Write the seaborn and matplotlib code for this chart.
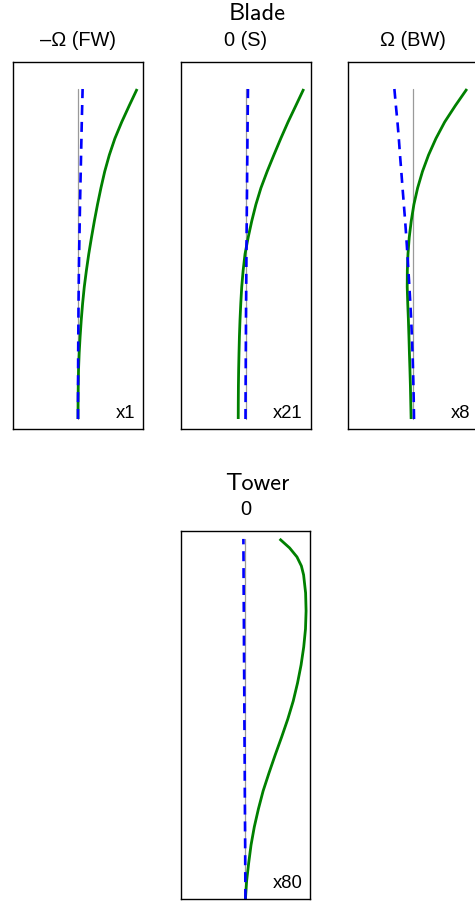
import matplotlib
matplotlib.use("Agg")
import numpy as np
import pandas as pd
import matplotlib.pyplot as plt
import seaborn as sns

# ---------------------------------------------------------------- data
# Normalised blade span stations (root = 0, tip = 1)
blade_span = [0.00, 0.05, 0.10, 0.15, 0.20, 0.25, 0.30, 0.35, 0.40, 0.45, 0.50,
              0.55, 0.60, 0.65, 0.70, 0.75, 0.80, 0.85, 0.90, 0.95, 1.00]

# Forward whirl (-Omega)
flap_fw = [0.000, 0.001, 0.004, 0.009, 0.020, 0.036, 0.055, 0.078, 0.106, 0.142, 0.182,
           0.228, 0.277, 0.330, 0.388, 0.452, 0.530, 0.624, 0.740, 0.868, 1.000]
edge_fw = [0.000, 0.000, 0.001, 0.002, 0.003, 0.005, 0.007, 0.009, 0.012, 0.015, 0.019,
           0.024, 0.029, 0.034, 0.040, 0.046, 0.052, 0.058, 0.064, 0.071, 0.078]

# Symmetric (0)
flap_s = [-0.123, -0.122, -0.120, -0.116, -0.110, -0.103, -0.093, -0.080, -0.064, -0.040, -0.008,
          0.045, 0.106, 0.176, 0.261, 0.366, 0.480, 0.597, 0.720, 0.853, 0.985]
edge_s = [0.000, 0.001, 0.002, 0.004, 0.005, 0.007, 0.008, 0.010, 0.012, 0.014, 0.016,
          0.018, 0.021, 0.023, 0.026, 0.028, 0.031, 0.033, 0.036, 0.039, 0.042]

# Backward whirl (+Omega)
flap_bw = [-0.037, -0.043, -0.049, -0.057, -0.066, -0.074, -0.083, -0.094, -0.103, -0.101, -0.090,
           -0.069, -0.035, 0.010, 0.073, 0.155, 0.258, 0.383, 0.531, 0.713, 0.907]
edge_bw = [0.012, 0.008, 0.002, -0.005, -0.013, -0.024, -0.036, -0.050, -0.066, -0.083, -0.100,
           -0.118, -0.138, -0.160, -0.182, -0.203, -0.225, -0.245, -0.268, -0.295, -0.320]

# Normalised tower height stations
tower_height = [0.00, 0.05, 0.10, 0.15, 0.20, 0.25, 0.30, 0.35, 0.40, 0.45, 0.50, 0.55,
                0.60, 0.65, 0.70, 0.75, 0.80, 0.85, 0.90, 0.925, 0.95, 0.975, 1.00]
tower_fa = [0.000, 0.020, 0.055, 0.095, 0.150, 0.220, 0.300, 0.400, 0.505, 0.615, 0.720, 0.812,
            0.885, 0.945, 0.990, 1.020, 1.030, 1.022, 0.988, 0.950, 0.875, 0.750, 0.580]
tower_ss = [0.000, -0.002, -0.004, -0.005, -0.007, -0.009, -0.011, -0.012, -0.014, -0.016, -0.018,
            -0.019, -0.021, -0.023, -0.025, -0.026, -0.028, -0.030, -0.032, -0.032, -0.033,
            -0.034, -0.035]

blade_titles = ["\u2013\u03a9 (FW)", "0 (S)", "\u03a9 (BW)"]
blade_scales = ["x1", "x21", "x8"]
tower_title = "0"
tower_scale = "x80"

# ---------------------------------------------------------------- style
sns.set_theme(style="white")
plt.rcParams["font.family"] = ["Liberation Sans", "DejaVu Sans"]

W, H = 475, 902
fig = plt.figure(figsize=(W / 100, H / 100), dpi=100)
fig.patch.set_facecolor("white")

GREEN = "#008000"
BLUE = "#0000ff"
REF = "#9a9a9a"


def add_panel(left, top, width, height):
    return fig.add_axes([left / W, 1 - (top + height) / H, width / W, height / H])


def draw_shape(ax, span, flap, edge, scale, ylim):
    zeros = np.zeros(len(span))
    sns.lineplot(x=zeros, y=span, ax=ax, color=REF, lw=0.9, orient="y",
                 estimator=None)
    line_kw = dict(solid_joinstyle="round", solid_capstyle="butt")
    sns.lineplot(x=flap, y=span, ax=ax, color=GREEN, lw=2.0, orient="y",
                 estimator=None, **line_kw)
    sns.lineplot(x=edge, y=span, ax=ax, color=BLUE, lw=1.9, orient="y",
                 estimator=None, linestyle=(0, (3.8, 2.6)))
    ax.set_xlim(-1.1, 1.1)
    ax.set_ylim(*ylim)
    ax.set_xticks([])
    ax.set_yticks([])
    ax.set_xlabel("")
    ax.set_ylabel("")
    for sp in ax.spines.values():
        sp.set_visible(True)
        sp.set_color("black")
        sp.set_linewidth(1.0)
    ax.annotate(scale, xy=(1, 0), xycoords="axes fraction",
                xytext=(-8, 11), textcoords="offset pixels",
                ha="right", va="baseline", fontsize=13.3, color="black")


blade_ylim = (-0.0303, 1.0818)
blade_lefts = [13.0, 180.5, 348.3]
blade_data = [(flap_fw, edge_fw), (flap_s, edge_s), (flap_bw, edge_bw)]

for left, (flap, edge), title, scale in zip(blade_lefts, blade_data,
                                            blade_titles, blade_scales):
    ax = add_panel(left, 62, 130, 367)
    draw_shape(ax, blade_span, flap, edge, scale, blade_ylim)
    fig.text((left + 65) / W, 1 - 45.7 / H, title, ha="center", va="baseline",
             fontsize=14.4, color="black")

fig.text(257 / W, 1 - 20 / H, "Blade", ha="center", va="baseline",
         fontsize=17.5, family="cmss10", color="black")

ax_t = add_panel(180.7, 531, 129.5, 368)
draw_shape(ax_t, tower_height, tower_fa, tower_ss, tower_scale, (0.0, 1.022))
fig.text(246 / W, 1 - 515 / H, tower_title, ha="center", va="baseline",
         fontsize=14.4, color="black")
fig.text(257.5 / W, 1 - 490 / H, "Tower", ha="center", va="baseline",
         fontsize=17.5, family="cmss10", color="black")

fig.savefig("out.png", dpi=100, facecolor="white")
